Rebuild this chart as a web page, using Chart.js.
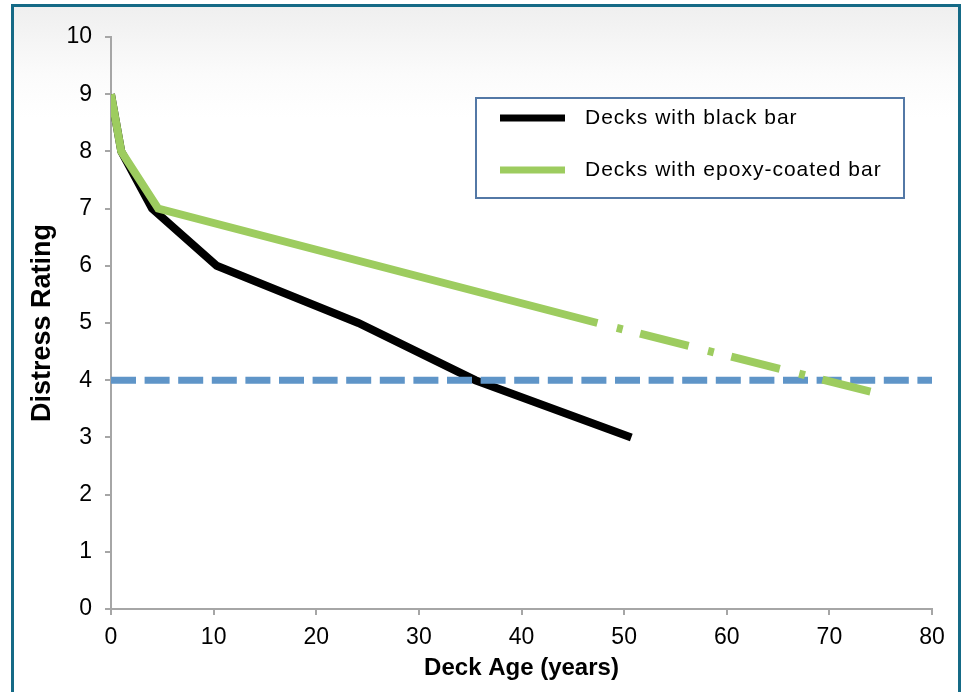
<!DOCTYPE html>
<html>
<head>
<meta charset="utf-8">
<script src="https://cdn.jsdelivr.net/npm/chart.js@4.4.1/dist/chart.umd.min.js"></script>
<style>
  body { margin: 0; background: #fff; }
  #wrap { position: relative; width: 963px; height: 692px; overflow: hidden; }
  #frame {
    position: absolute; left: 11px; top: 4px; width: 944px; height: 720px;
    border: 3px solid #156a86; border-bottom: none;
    background: linear-gradient(#efefef 0px, #fbfbfb 68px, #ffffff 110px);
  }
  canvas { position: absolute; left: 0; top: 0; }
</style>
</head>
<body>
<div id="wrap">
  <div id="frame"></div>
  <canvas id="chart" width="963" height="692"></canvas>
</div>
<script>
// values
const blackAge = [0, 1.0, 4.0, 10.3, 24.1, 35.5, 50.7];
const blackRating = [9, 8, 7, 6, 5, 4, 3];

const epoxyAge = [0, 1.0, 4.6, 47.4, 74.0];
const epoxyRating = [9, 8, 7, 5, 3.8];
const epoxyProjectedFrom = 3; // dash-dot after this point

const limitAge = [0, 80];
const limitRating = [4, 4];

const xTicks = [0, 10, 20, 30, 40, 50, 60, 70, 80];
const yTicks = [0, 1, 2, 3, 4, 5, 6, 7, 8, 9, 10];

function toPoints(xs, ys) {
  return xs.map((x, i) => ({ x: x, y: ys[i] }));
}

// legend drawn as a boxed panel inside the plot
const boxLegend = {
  id: "boxLegend",
  afterDatasetsDraw(chart) {
    const ctx = chart.ctx;
    const items = chart.data.datasets.filter(d => d.inLegend);
    ctx.save();
    ctx.fillStyle = "#fff";
    ctx.fillRect(476, 98, 428, 100);
    ctx.strokeStyle = "#5378a6";
    ctx.lineWidth = 2;
    ctx.strokeRect(476, 98, 428, 100);
    items.forEach((d, i) => {
      const y = 118 + i * 52;
      ctx.setLineDash([]);
      ctx.strokeStyle = d.borderColor;
      ctx.lineWidth = 7;
      ctx.beginPath();
      ctx.moveTo(500, y);
      ctx.lineTo(565, y);
      ctx.stroke();
      ctx.fillStyle = "#000";
      ctx.font = '21px "Liberation Sans", Arial, sans-serif';
      ctx.letterSpacing = "1px";
      ctx.textBaseline = "middle";
      ctx.fillText(d.label, 585, y);
    });
    ctx.restore();
  }
};

const tickFont = { family: '"Liberation Sans", Arial, sans-serif', size: 23 };

const chart = new Chart(document.getElementById("chart"), {
  type: "line",
  data: {
    datasets: [
      {
        label: "Decks with black bar",
        inLegend: true,
        data: toPoints(blackAge, blackRating),
        borderColor: "#000000",
        borderWidth: 8,
        pointRadius: 0,
        tension: 0,
        order: 2
      },
      {
        label: "Decks with epoxy-coated bar",
        inLegend: true,
        data: toPoints(epoxyAge, epoxyRating),
        borderColor: "#9dcc5f",
        borderWidth: 8,
        pointRadius: 0,
        tension: 0,
        order: 0,
        segment: {
          borderDash: c => c.p0DataIndex >= epoxyProjectedFrom ? [50, 20, 6, 18] : [],
          borderDashOffset: c => c.p0DataIndex >= epoxyProjectedFrom ? 50 : 0
        }
      },
      {
        label: "Limit",
        inLegend: false,
        data: toPoints(limitAge, limitRating),
        borderColor: "#5f95c8",
        borderWidth: 7,
        borderDash: [25, 8.6],
        pointRadius: 0,
        order: 1
      }
    ]
  },
  options: {
    responsive: false,
    animation: false,
    layout: { padding: { left: 0, right: 31, top: 37, bottom: 0 } },
    plugins: {
      legend: { display: false },
      tooltip: { enabled: false }
    },
    scales: {
      x: {
        type: "linear",
        min: 0,
        max: 80,
        afterBuildTicks: s => { s.ticks = xTicks.map(v => ({ value: v })); },
        afterFit: s => { s.height = 83; },
        border: { color: "#a6a6a6", width: 2 },
        grid: { drawOnChartArea: false, drawTicks: true, tickLength: 6, color: "#a6a6a6", lineWidth: 2 },
        ticks: { color: "#000", font: tickFont, padding: 9, maxRotation: 0 },
        title: {
          display: true, text: "Deck Age (years)", color: "#000",
          font: { family: tickFont.family, size: 24, weight: "bold" },
          padding: { top: 0, bottom: 9.6 }
        }
      },
      y: {
        min: 0,
        max: 10,
        afterBuildTicks: s => { s.ticks = yTicks.map(v => ({ value: v })); },
        afterFit: s => { s.width = 111; },
        border: { color: "#a6a6a6", width: 2 },
        grid: { drawOnChartArea: false, drawTicks: true, tickLength: 6, color: "#a6a6a6", lineWidth: 2 },
        ticks: { color: "#000", font: tickFont, padding: 13 },
        title: {
          display: true, text: "Distress Rating", color: "#000",
          font: { family: tickFont.family, size: 27, weight: "bold" },
          padding: { top: 26.8, bottom: 0 }
        }
      }
    }
  },
  plugins: [boxLegend]
});
</script>
</body>
</html>
